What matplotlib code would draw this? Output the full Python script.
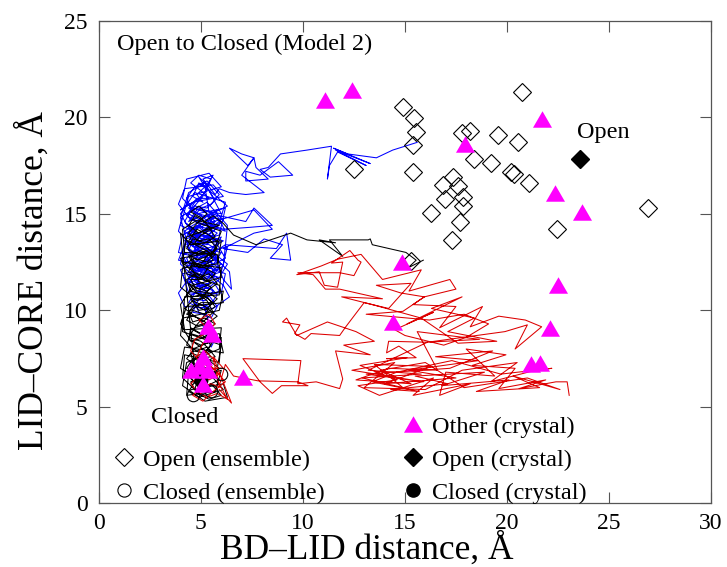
import matplotlib

matplotlib.use("Agg")
import matplotlib.pyplot as plt
import numpy as np
from matplotlib.lines import Line2D
from matplotlib.path import Path

plt.rcParams["font.family"] = ["Liberation Serif", "DejaVu Serif"]

# open state, ensemble (BD-LID, LID-CORE)
OPEN_ENS_X = [20.72, 14.9, 15.44, 15.54, 15.38, 15.38, 12.5, 17.78, 18.19, 19.54, 20.55, 18.38, 19.22,
              20.2, 20.36, 21.09, 16.88, 17.37, 17.61, 16.96, 17.86, 17.83, 16.26, 17.7, 17.29, 22.44,
              26.93, 15.3]
OPEN_ENS_Y = [21.33, 20.55, 19.96, 19.25, 18.57, 17.18, 17.32, 19.17, 19.31, 19.08, 18.74, 17.84, 17.65,
              17.18, 17.06, 16.58, 16.49, 16.92, 16.44, 15.75, 15.89, 15.41, 15.03, 14.59, 13.65, 14.2,
              15.32, 12.55]

CLOSED_ENS_X = [6.0, 4.6, 5.0, 5.5]
CLOSED_ENS_Y = [6.7, 5.6, 6.0, 5.8]

OTHER_CRYS_X = [11.1, 12.4, 17.95, 21.7, 22.35, 23.7, 14.85, 22.5, 14.4, 22.1, 21.2, 21.6,
                5.35, 5.55, 5.1, 4.5, 5.35, 5.1, 7.05, 4.9]
OTHER_CRYS_Y = [20.9, 21.4, 18.6, 19.9, 16.1, 15.1, 12.5, 11.3, 9.4, 9.1, 7.2, 7.3,
                9.2, 8.8, 7.6, 6.9, 6.9, 6.2, 6.55, 7.1]

OPEN_CRYS_X = [23.58]
OPEN_CRYS_Y = [17.83]
CLOSED_CRYS_X = [5.0]
CLOSED_CRYS_Y = [6.4]

# trajectory 1 (blue): excursion part, then the closed-state cluster
BLUE_PATH = [
    (15.6, 18.7), (14.4, 18.3), (13.6, 17.9), (12.2, 18.1), (11.5, 18.4), (13.3, 17.6), (11.6, 18.3),
    (13.1, 17.5), (11.7, 18.2), (11.3, 17.5), (11.2, 16.8), (11.4, 18.5), (10.2, 18.3), (8.9, 18.1),
    (8.3, 17.4), (7.9, 17.3), (8.4, 16.9), (9.5, 17.0), (8.8, 17.7), (7.9, 17.0), (7.2, 17.2),
    (7.2, 16.7), (8.3, 16.8), (7.7, 17.4), (7.6, 17.9), (7.3, 17.5), (6.4, 18.4), (7.0, 18.1),
    (7.6, 17.9), (7.0, 17.0), (8.1, 16.1), (7.2, 16.0), (6.4, 16.1), (5.9, 16.3), (5.7, 16.0),
    (5.1, 16.8), (5.6, 17.0), (5.3, 16.5), (4.9, 16.9), (5.2, 16.4),
    (6.3, 15.4), (5.5, 15.0), (7.2, 14.6), (7.6, 15.3), (8.5, 14.4), (7.4, 14.3), (6.1, 14.2),
    (5.3, 14.5), (7.6, 15.2), (8.5, 14.2), (7.6, 14.0), (6.1, 13.2), (7.3, 13.0), (8.1, 13.7),
    (9.0, 13.4), (8.4, 12.7), (9.4, 12.6), (9.2, 14.0), (8.7, 13.2), (6.2, 13.4), (5.5, 12.9),
    (6.4, 12.0), (6.5, 11.1), (6.1, 11.6), (5.8, 12.4),
]
BLUE_CLUSTER = [
    (5.2, 16.4), (4.8, 16.0), (5.1, 15.6), (4.6, 15.9), (4.9, 16.6), (5.4, 16.2), (5.7, 15.7), (5.3, 15.3), (4.7, 15.4), (4.4, 15.0),
    (4.9, 14.7), (5.5, 15.0), (5.9, 14.6), (5.4, 14.2), (4.8, 14.4), (4.5, 14.0), (5.0, 13.7), (5.6, 13.9), (5.3, 13.4), (4.7, 13.6),
    (4.3, 13.3), (4.8, 12.9), (5.4, 13.1), (5.8, 12.7), (5.2, 12.4), (4.6, 12.6), (4.9, 12.1), (5.5, 12.3), (5.1, 11.8), (4.5, 12.0),
    (4.4, 11.5), (5.0, 11.2), (5.6, 11.5), (5.9, 11.0), (5.3, 10.7), (4.7, 10.9), (4.4, 10.4), (5.0, 10.1), (5.5, 10.4), (5.2, 9.8),
    (4.6, 9.9), (4.9, 10.6), (5.4, 11.1), (4.8, 11.4), (5.2, 12.0), (4.6, 12.3), (5.0, 12.8), (5.7, 13.2), (5.1, 13.6), (4.5, 13.4),
    (4.9, 14.0), (5.6, 14.4), (5.0, 14.9), (4.4, 14.6), (4.8, 15.2), (5.5, 15.5), (5.9, 16.0), (5.3, 16.7), (4.7, 16.4), (4.3, 15.8),
    (4.6, 15.1), (5.2, 14.8), (5.8, 15.2), (5.4, 14.5), (4.7, 14.2), (4.3, 14.5), (4.9, 13.8), (5.4, 13.5), (6.0, 13.8), (5.6, 13.1),
    (5.0, 12.9), (4.4, 12.5), (4.8, 12.2), (5.3, 12.6), (5.9, 12.2), (5.5, 11.7), (4.9, 11.6), (4.3, 11.9), (4.7, 11.2), (5.3, 11.4),
    (5.8, 10.8), (5.4, 10.2), (4.8, 10.3), (4.5, 10.8), (5.1, 11.0), (5.7, 11.9), (5.2, 12.7), (4.6, 13.0), (5.0, 13.3), (5.5, 13.8),
    (4.9, 14.3), (4.4, 13.9), (4.7, 13.2), (5.3, 12.9), (5.8, 13.5), (5.2, 14.1), (4.6, 14.8), (5.0, 15.3), (5.6, 15.0), (5.1, 14.5),
    (4.5, 14.2), (4.2, 13.6), (4.7, 13.3), (5.2, 13.8), (5.7, 14.2), (6.1, 14.7), (5.5, 14.8), (4.9, 15.0), (4.4, 15.3), (4.8, 15.8),
    (5.4, 15.8), (5.0, 16.2), (4.5, 16.6), (4.9, 17.0), (5.5, 16.8), (5.2, 16.1), (4.7, 15.6), (4.3, 14.9), (4.8, 14.6), (5.3, 14.9),
    (5.8, 14.3), (5.3, 13.8), (4.7, 13.9), (4.4, 13.1), (4.9, 12.7), (5.5, 12.9), (5.1, 12.3), (4.5, 12.4), (4.8, 11.8), (5.4, 12.0),
    (5.9, 11.6), (5.4, 11.2), (4.8, 11.0), (4.4, 11.3), (4.7, 11.9), (5.2, 11.5), (5.7, 12.1), (5.3, 12.8), (4.8, 13.1), (4.3, 12.7),
    (4.6, 12.0), (5.1, 12.5), (5.7, 12.6), (5.2, 13.2), (4.6, 13.5), (5.0, 14.1), (5.5, 14.1), (5.1, 14.7), (4.6, 14.4), (4.2, 14.1),
    (4.7, 13.7), (5.3, 14.3), (5.8, 14.0), (5.4, 13.6), (4.9, 13.4), (4.5, 12.9), (5.0, 12.5), (5.6, 12.8), (6.0, 12.4), (5.5, 12.0),
    (4.9, 12.2), (4.5, 11.7), (5.0, 11.4), (5.6, 11.0), (5.2, 10.5), (4.6, 10.6), (4.9, 9.9), (5.5, 9.6), (5.8, 10.2), (5.3, 10.9),
    (4.7, 11.5), (5.1, 12.1), (5.6, 12.4), (5.0, 13.0), (4.5, 13.7), (5.1, 13.9), (5.7, 14.6), (5.2, 15.1), (4.6, 15.3), (5.1, 15.9),
    (4.0, 15.2), (4.6, 15.6), (6.1, 15.9), (5.6, 16.5), (4.2, 16.3), (3.9, 15.5), (4.5, 14.7), (6.2, 14.1), (5.8, 14.9), (4.1, 13.9),
    (3.9, 13.0), (4.6, 12.8), (6.3, 13.3), (6.0, 12.0), (4.3, 11.4), (4.0, 12.1), (4.7, 12.5), (6.1, 11.3), (6.4, 10.7), (5.6, 10.1),
    (4.2, 10.2), (3.9, 10.9), (4.5, 11.8), (6.2, 12.7), (5.7, 13.6), (4.0, 14.4), (4.4, 15.9), (6.0, 16.4), (5.4, 17.1), (4.3, 16.8),
    (4.1, 15.8), (4.8, 15.0), (6.2, 15.3), (5.9, 13.9), (4.2, 13.4), (4.0, 12.4), (4.8, 11.6), (6.1, 12.3), (6.3, 14.4), (5.3, 15.6),
    (4.1, 14.9), (3.9, 14.1), (4.6, 13.3), (6.0, 13.0), (5.5, 12.2), (4.1, 11.9), (4.4, 10.9), (6.0, 10.9), (6.2, 11.9), (4.9, 12.4),
    (3.9, 12.6), (4.3, 13.7), (5.9, 14.5), (6.2, 15.6), (4.7, 16.1), (4.0, 15.0), (4.5, 14.1), (6.1, 13.6), (5.6, 13.3), (4.1, 12.9),
    (4.4, 12.2), (5.9, 11.7), (6.3, 12.4), (5.0, 13.5), (4.2, 14.6), (4.6, 15.3), (6.0, 15.0), (5.2, 16.6), (4.4, 16.1), (4.0, 14.8),
    (5.4, 9.3), (5.8, 8.7), (5.5, 8.1), (5.2, 8.9), (5.0, 9.5),
]

# trajectory 2 (black)
BLACK_PATH = [
    (15.9, 12.6), (15.15, 12.2), (15.55, 12.6), (15.05, 13.0), (13.4, 13.4), (13.3, 13.7),
    (13.2, 13.65), (11.3, 13.65), (11.95, 12.8), (10.8, 13.65), (11.6, 13.5), (10.2, 13.65),
    (9.4, 14.0), (7.7, 13.4), (6.6, 13.9), (6.1, 14.5), (5.6, 14.9),
]
BLACK_CLUSTER = [
    (5.2, 14.6), (4.7, 14.9), (4.4, 14.4), (4.9, 14.0), (5.4, 14.3), (5.7, 13.8), (5.2, 13.5), (4.6, 13.7), (4.3, 13.2), (4.8, 12.9),
    (5.3, 13.1), (5.6, 12.6), (5.1, 12.3), (4.6, 12.5), (4.4, 12.0), (4.9, 11.7), (5.4, 11.9), (5.8, 11.4), (5.3, 11.0), (4.7, 11.2),
    (4.3, 10.8), (4.8, 10.5), (5.3, 10.7), (5.7, 10.2), (5.2, 9.8), (4.6, 10.0), (4.3, 9.5), (4.8, 9.2), (5.4, 9.4), (5.6, 8.9),
    (5.1, 8.6), (4.5, 8.8), (4.3, 8.2), (4.8, 7.9), (5.3, 8.1), (5.7, 7.6), (5.2, 7.3), (4.6, 7.5), (4.3, 7.0), (4.8, 6.7),
    (5.4, 6.9), (5.9, 6.4), (5.3, 6.1), (4.7, 6.3), (4.4, 5.8), (4.9, 5.5), (5.5, 5.7), (6.1, 5.9), (5.6, 6.5), (5.0, 6.8),
    (4.5, 7.2), (4.9, 7.7), (5.5, 7.9), (5.0, 8.4), (4.4, 8.6), (4.7, 9.1), (5.3, 9.3), (5.8, 9.7), (5.2, 10.2), (4.6, 10.5),
    (4.2, 10.1), (4.7, 9.7), (5.1, 9.4), (5.6, 9.9), (5.3, 10.5), (4.8, 10.9), (4.4, 11.4), (4.9, 11.1), (5.5, 11.4), (5.1, 11.8),
    (4.6, 12.0), (4.2, 12.4), (4.7, 12.7), (5.3, 12.5), (5.7, 12.9), (5.2, 13.3), (4.7, 13.5), (5.0, 13.9), (5.5, 14.2), (5.0, 14.8),
    (4.5, 15.1), (4.9, 15.4), (5.3, 15.0), (4.8, 14.5), (4.4, 14.0), (4.9, 13.6), (5.4, 13.7), (5.8, 13.2), (5.3, 12.8), (4.8, 12.6),
    (4.4, 12.9), (4.9, 12.2), (5.4, 12.3), (5.0, 11.6), (4.5, 11.6), (4.8, 11.0), (5.4, 10.9), (5.8, 10.6), (5.2, 10.0), (4.7, 10.3),
    (4.3, 9.8), (4.9, 9.6), (5.5, 9.2), (5.0, 8.8), (4.5, 9.1), (4.4, 8.5), (5.0, 8.2), (5.6, 8.4), (5.2, 7.8), (4.6, 7.9),
    (4.3, 7.5), (4.8, 7.1), (5.4, 7.4), (5.9, 7.0), (5.4, 6.6), (4.8, 6.2), (4.4, 6.6), (4.9, 6.0), (5.5, 6.2), (6.0, 5.6),
    (5.4, 5.4), (4.8, 5.7), (4.5, 6.3), (5.1, 6.5), (5.7, 6.8), (5.1, 7.1), (4.6, 6.9), (4.9, 7.5), (5.5, 7.6), (5.1, 8.0),
    (4.6, 8.4), (5.2, 8.9), (5.7, 9.3), (5.2, 9.6), (4.6, 9.4), (4.4, 9.9), (5.0, 10.4), (5.6, 10.4), (5.1, 10.8), (4.5, 11.0),
    (4.3, 11.6), (4.8, 11.9), (5.3, 11.5), (5.7, 11.9), (5.2, 12.2), (4.7, 12.3), (4.4, 12.8), (5.0, 13.1), (5.5, 12.8), (5.9, 13.5),
    (5.4, 13.9), (4.8, 14.2), (4.4, 13.6), (4.9, 13.3), (5.4, 13.0), (5.1, 12.5), (4.5, 12.3), (4.9, 11.5), (5.5, 11.2), (5.0, 10.6),
    (4.5, 10.6), (4.9, 10.0), (5.4, 10.1), (5.0, 9.5), (4.6, 9.0), (5.1, 8.7), (5.5, 8.2), (5.0, 7.6), (4.5, 7.8), (4.7, 7.0),
    (4.0, 14.0), (4.5, 13.4), (6.0, 13.6), (5.8, 12.4), (4.1, 12.2), (4.0, 11.2), (4.6, 10.7), (6.1, 11.0), (5.9, 10.0), (4.1, 9.6),
    (4.0, 8.7), (4.6, 8.0), (6.0, 8.6), (5.9, 7.3), (4.2, 7.7), (4.1, 6.5), (4.7, 5.9), (6.1, 6.2), (6.3, 5.5), (5.2, 5.3),
    (4.1, 6.1), (4.3, 7.3), (5.9, 8.0), (6.0, 9.1), (4.2, 9.0), (4.0, 10.3), (4.6, 11.3), (6.0, 11.7), (5.8, 12.9), (4.2, 13.0),
    (4.1, 14.2), (4.7, 14.6), (6.0, 14.1), (5.6, 13.0), (4.0, 12.7), (4.3, 11.9), (5.9, 11.3), (6.1, 10.4), (4.3, 10.2), (4.0, 9.3),
    (4.5, 8.4), (5.9, 8.8), (6.1, 7.8), (4.2, 8.1), (4.0, 7.0), (4.8, 6.5), (6.0, 6.9), (5.7, 5.8), (4.3, 5.6), (4.4, 6.8),
    (5.8, 7.0), (6.0, 8.2), (4.1, 8.9), (4.2, 10.7), (5.9, 10.8), (6.0, 12.2), (4.1, 12.5), (4.3, 13.8), (5.9, 14.4), (4.6, 14.7),
]

# trajectory 3 (red)
RED_PATH = [
    (23.05, 5.6), (22.95, 6.3), (22.4, 6.3), (20.6, 5.95), (21.9, 6.4), (19.6, 5.95), (20.4, 7.0),
    (18.3, 7.15), (19.95, 7.7), (18.0, 8.0), (19.4, 6.6), (17.0, 6.8), (16.7, 5.6), (18.2, 6.2),
    (15.4, 5.6), (16.4, 6.5), (13.75, 5.6), (12.7, 6.1), (14.6, 6.4), (12.8, 7.15), (15.1, 7.55),
    (14.1, 7.5), (15.55, 7.55), (14.7, 8.15), (14.1, 7.8), (14.2, 8.4), (16.1, 8.35), (13.2, 6.9),
    (15.8, 6.7), (12.9, 6.5), (14.9, 6.0), (13.5, 7.2), (16.3, 7.1), (14.0, 6.2), (17.5, 6.5),
    (15.2, 6.9), (18.6, 7.4), (16.5, 7.6), (19.3, 7.9), (17.2, 7.0), (13.1, 6.7), (15.9, 6.3),
    (12.4, 6.9), (14.5, 7.3), (13.0, 6.0), (16.0, 5.9), (17.8, 6.9), (20.5, 7.3), (19.2, 6.3),
    (21.4, 6.9), (22.2, 7.0), (19.7, 6.7), (17.3, 7.4), (14.6, 6.8),
    (13.4, 6.3), (15.7, 5.8), (14.3, 5.9), (17.1, 6.2), (15.5, 6.6), (18.9, 6.8), (16.8, 6.1),
    (20.1, 6.4), (18.5, 5.8), (21.6, 6.0), (20.3, 6.6), (22.6, 5.9), (21.0, 6.5), (17.9, 6.0),
    (16.0, 7.3), (13.8, 6.9), (15.3, 6.2), (12.6, 6.4), (14.2, 7.0), (16.6, 6.9),
    (15.6, 8.9), (18.65, 8.5), (16.1, 8.35), (19.9, 8.9), (21.0, 9.25), (20.4, 8.0), (21.7, 9.15),
    (20.9, 9.5), (19.6, 9.7), (18.2, 9.15), (18.8, 10.2), (16.7, 9.1), (17.5, 10.2), (15.4, 10.3),
    (15.95, 10.7), (14.9, 9.95), (13.1, 9.8), (16.2, 9.5), (17.9, 9.8), (19.1, 9.3), (18.0, 8.6),
    (16.9, 8.2), (15.0, 8.7), (14.5, 9.0), (16.4, 9.9), (15.1, 9.3), (17.8, 10.7), (16.3, 10.1),
    (18.4, 9.6), (17.1, 8.9), (19.5, 8.4), (17.6, 8.3), (15.8, 9.6), (13.4, 10.3), (11.9, 10.7),
    (13.9, 10.6),
    (11.8, 11.1), (11.1, 11.1), (10.5, 11.85), (9.75, 11.95), (11.8, 11.95), (12.5, 11.8),
    (12.85, 12.5), (12.7, 12.6), (12.3, 13.1), (11.4, 12.45), (11.95, 12.5), (11.7, 11.2),
    (11.05, 11.3), (10.8, 12.0), (9.7, 11.85), (10.9, 12.3), (11.7, 12.65), (12.85, 12.9),
    (13.9, 11.6), (15.8, 12.1), (15.2, 11.0), (17.2, 11.6), (17.5, 11.1), (15.95, 10.7),
    (14.8, 10.9), (13.6, 11.3), (15.3, 11.4), (14.2, 10.1), (13.0, 10.4),
    (12.1, 9.15), (11.8, 8.7), (10.4, 8.8), (10.1, 8.5), (9.6, 8.8), (9.85, 9.25), (9.0, 9.4),
    (9.2, 9.6), (9.7, 8.7), (11.2, 9.4), (12.6, 8.9), (13.5, 8.4), (12.0, 8.2), (13.3, 7.7),
    (11.6, 7.9),
    (11.95, 6.45), (11.8, 5.95), (10.65, 6.3), (9.75, 6.2), (9.9, 7.4), (7.06, 7.5), (7.9, 6.3),
    (8.5, 5.7), (8.95, 6.1), (10.25, 6.1), (9.75, 6.3), (7.8, 6.35), (6.6, 6.6), (6.2, 7.2),
    (5.9, 6.1),
]
RED_CLUSTER = [
    (5.6, 7.5), (5.2, 7.9), (4.8, 7.6), (5.1, 8.3), (5.6, 8.6), (5.3, 9.1), (4.9, 9.5), (5.4, 9.8), (5.7, 9.3), (5.2, 8.8),
    (4.7, 8.5), (4.5, 7.9), (5.0, 7.3), (5.5, 7.1), (5.9, 6.7), (5.4, 6.4), (4.9, 6.6), (4.5, 6.2), (4.8, 5.8), (5.3, 5.5),
    (5.8, 5.7), (6.3, 5.4), (6.0, 6.0), (5.5, 6.2), (5.0, 6.0), (4.6, 5.6), (5.1, 5.3), (5.6, 5.8), (6.2, 6.3), (5.7, 6.9),
    (5.2, 7.2), (4.7, 7.0), (6.1, 7.0), (5.6, 7.6), (6.5, 5.2), (5.9, 5.9),
]

X_TICKS = [0, 5, 10, 15, 20, 25, 30]
Y_TICKS = [0, 5, 10, 15, 20, 25]

SPINE_COLOR = "#555555"
TRI = Path([(-0.5, -0.433), (0.5, -0.433), (0.0, 0.433), (-0.5, -0.433)],
           [Path.MOVETO, Path.LINETO, Path.LINETO, Path.CLOSEPOLY])


def main() -> None:
    fig = plt.figure(figsize=(7.27, 5.67), dpi=100)
    ax = fig.add_axes([0.136, 0.112, 0.842, 0.8515])

    trajectories = (
        (BLUE_PATH + BLUE_CLUSTER, "#0000ff"),
        (BLACK_PATH + BLACK_CLUSTER, "black"),
        (RED_PATH + RED_CLUSTER, "#dd0000"),
    )
    for traj, color in trajectories:
        xs, ys = np.array(traj).T
        ax.plot(xs, ys, color=color, linewidth=0.75)

    ax.plot(OPEN_ENS_X, OPEN_ENS_Y, linestyle="none", marker="D", markersize=8.7,
            markerfacecolor="none", markeredgecolor="black", markeredgewidth=0.8)
    ax.plot(CLOSED_ENS_X, CLOSED_ENS_Y, linestyle="none", marker="o", markersize=9,
            markerfacecolor="none", markeredgecolor="black", markeredgewidth=0.8)
    ax.plot(CLOSED_CRYS_X, CLOSED_CRYS_Y, linestyle="none", marker="o", markersize=9, color="black")
    ax.plot(OTHER_CRYS_X, OTHER_CRYS_Y, linestyle="none", marker=TRI, markersize=13.7,
            color="#ff00ff", markeredgewidth=0)
    ax.plot(OPEN_CRYS_X, OPEN_CRYS_Y, linestyle="none", marker="D", markersize=9.2, color="black")

    ax.text(0.029, 0.95, "Open to Closed (Model 2)", transform=ax.transAxes, fontsize=17.5,
            ha="left", va="center")
    ax.text(23.45, 19.2, "Open", fontsize=17.5, ha="left", va="center")
    ax.text(2.55, 4.45, "Closed", fontsize=17.5, ha="left", va="center")

    handles = [
        Line2D([], [], linestyle="none"),
        Line2D([], [], linestyle="none", marker="D", markersize=8.7, markerfacecolor="none",
               markeredgecolor="black", markeredgewidth=0.8),
        Line2D([], [], linestyle="none", marker="o", markersize=9.5, markerfacecolor="none",
               markeredgecolor="black", markeredgewidth=0.8),
        Line2D([], [], linestyle="none", marker=TRI, markersize=13.7, color="#ff00ff",
               markeredgewidth=0),
        Line2D([], [], linestyle="none", marker="D", markersize=9.2, color="black"),
        Line2D([], [], linestyle="none", marker="o", markersize=9.5, color="black"),
    ]
    labels = [" ", "Open (ensemble)", "Closed (ensemble)", "Other (crystal)", "Open (crystal)",
              "Closed (crystal)"]
    ax.legend(handles, labels, ncol=2, loc="upper left", bbox_to_anchor=(0.021, 0.182),
              frameon=False, fontsize=17.5, borderpad=0, borderaxespad=0, handlelength=1.0,
              handletextpad=0.3, columnspacing=3.1, labelspacing=0.45)

    ax.set_xlim(0, 30)
    ax.set_ylim(0, 25)
    ax.set_xticks(X_TICKS)
    ax.set_yticks(Y_TICKS)
    ax.tick_params(axis="both", which="both", direction="in", length=7.7, width=0.8,
                   color=SPINE_COLOR, labelsize=17, top=True, right=True)
    ax.tick_params(axis="x", pad=6.8)
    ax.tick_params(axis="y", pad=8)
    for spine in ax.spines.values():
        spine.set_color(SPINE_COLOR)
        spine.set_linewidth(0.9)

    ax.set_xlabel("BD–LID distance, Å", fontsize=25.5)
    ax.set_ylabel("LID–CORE distance, Å", fontsize=25.5)
    ax.xaxis.set_label_coords(0.437, -0.059)
    ax.yaxis.set_label_coords(-0.079, 0.461)

    fig.savefig("out.png", dpi=100)


if __name__ == "__main__":
    main()
